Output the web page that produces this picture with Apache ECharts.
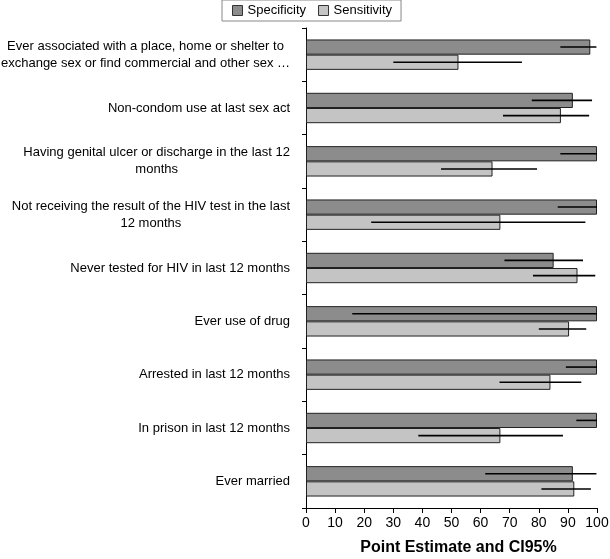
<!DOCTYPE html>
<html>
<head>
<meta charset="utf-8">
<script src="https://cdn.jsdelivr.net/npm/echarts@6/dist/echarts.min.js"></script>
<style>html,body{margin:0;padding:0;background:#fff}#c{width:610px;height:559px}</style>
</head>
<body>
<div id="c"></div>
<script>
const categories = [
  "Ever associated with a place, home or shelter to\nexchange sex or find commercial and other sex \u2026",
  "Non-condom use at last sex act",
  "Having genital ulcer or discharge in the last 12\nmonths",
  "Not receiving the result of the HIV test in the last\n12 months",
  "Never tested for HIV in last 12 months",
  "Ever use of drug",
  "Arrested in last 12 months",
  "In prison in last 12 months",
  "Ever married"
];
const specificity = [97.7, 91.7, 100, 100, 85.1, 100, 100, 100, 91.7];
const specLow     = [87.4, 77.6, 87.4, 86.5, 68.2, 15.9, 89.3, 92.9, 61.6];
const specHigh    = [99.8, 98.3, 100, 100, 95.2, 100, 100, 100, 99.8];
const sensitivity = [52.4, 87.6, 64.1, 66.8, 93.3, 90.4, 84.0, 66.8, 92.2];
const sensLow     = [30.0, 67.7, 46.4, 22.4, 78.0, 80.0, 66.5, 38.6, 80.9];
const sensHigh    = [74.2, 97.3, 79.4, 96.0, 99.4, 96.3, 94.6, 88.3, 97.9];
const xTicks = [0, 10, 20, 30, 40, 50, 60, 70, 80, 90, 100];

const FONT = "'Liberation Sans', Arial, Helvetica, sans-serif";
const GAP = 0.43;

function errSeries(lo, hi, sign) {
  return {
    type: 'custom',
    silent: true,
    z: 5,
    data: lo.map((l, i) => [l, hi[i], i]),
    encode: { x: [0, 1], y: 2 },
    renderItem: function (params, api) {
      const cat = api.value(2);
      const p1 = api.coord([api.value(0), cat]);
      const p2 = api.coord([api.value(1), cat]);
      const band = api.size([0, 1])[1];
      const off = sign * band * (1 - GAP) / 4;
      return {
        type: 'line',
        shape: { x1: p1[0], y1: p1[1] + off, x2: p2[0], y2: p2[1] + off },
        style: { stroke: '#000', lineWidth: 1.6 }
      };
    }
  };
}

const chart = echarts.init(document.getElementById('c'), null, { renderer: 'canvas' });
chart.setOption({
  backgroundColor: '#fff',
  animation: false,
  textStyle: { fontFamily: FONT },
  legend: {
    top: 0,
    left: 222,
    padding: [4, 9, 4, 10],
    itemGap: 12,
    itemWidth: 10,
    itemHeight: 10,
    itemStyle: { borderColor: '#333', borderWidth: 1 },
    borderColor: '#888',
    borderWidth: 1,
    textStyle: { fontSize: 13, color: '#000', fontFamily: FONT },
    data: [{ name: 'Specificity', icon: 'rect' }, { name: 'Sensitivity', icon: 'rect' }]
  },
  grid: { left: 306, right: 13, top: 28, bottom: 51, containLabel: false, outerBoundsMode: 'none' },
  xAxis: {
    type: 'value',
    min: 0, max: 100, interval: 10,
    axisLine: { show: true, lineStyle: { color: '#000', width: 1 } },
    axisTick: { show: true, length: 5, lineStyle: { color: '#000' } },
    splitLine: { show: false },
    axisLabel: { fontSize: 14, color: '#000', margin: 8, fontFamily: FONT,
      formatter: v => xTicks.indexOf(v) >= 0 ? String(v) : '' },
    name: 'Point Estimate and CI95%',
    nameLocation: 'middle',
    nameGap: 32,
    nameTextStyle: { fontSize: 16, fontWeight: 'bold', color: '#000', fontFamily: FONT, padding: [0, 0, 0, 14] }
  },
  yAxis: {
    type: 'category',
    inverse: true,
    data: categories,
    axisLine: { show: true, lineStyle: { color: '#000', width: 1 } },
    axisTick: { show: true, length: 4, lineStyle: { color: '#000' } },
    axisLabel: {
      margin: 16,
      color: '#000',
      fontSize: 13,
      lineHeight: 17,
      fontFamily: FONT,
      formatter: v => v.split('\n').map(l => '{c|' + l + '}').join('\n'),
      rich: { c: { align: 'center', fontSize: 13, lineHeight: 17, color: '#000', fontFamily: FONT } }
    }
  },
  series: [
    {
      name: 'Specificity', type: 'bar', data: specificity,
      barGap: '0%', barCategoryGap: (GAP * 100) + '%',
      itemStyle: { color: '#8c8c8c', borderColor: '#222', borderWidth: 1 }
    },
    {
      name: 'Sensitivity', type: 'bar', data: sensitivity,
      barGap: '0%', barCategoryGap: (GAP * 100) + '%',
      itemStyle: { color: '#c4c4c4', borderColor: '#222', borderWidth: 1 }
    },
    errSeries(specLow, specHigh, -1),
    errSeries(sensLow, sensHigh, 1)
  ]
});
</script>
</body>
</html>
